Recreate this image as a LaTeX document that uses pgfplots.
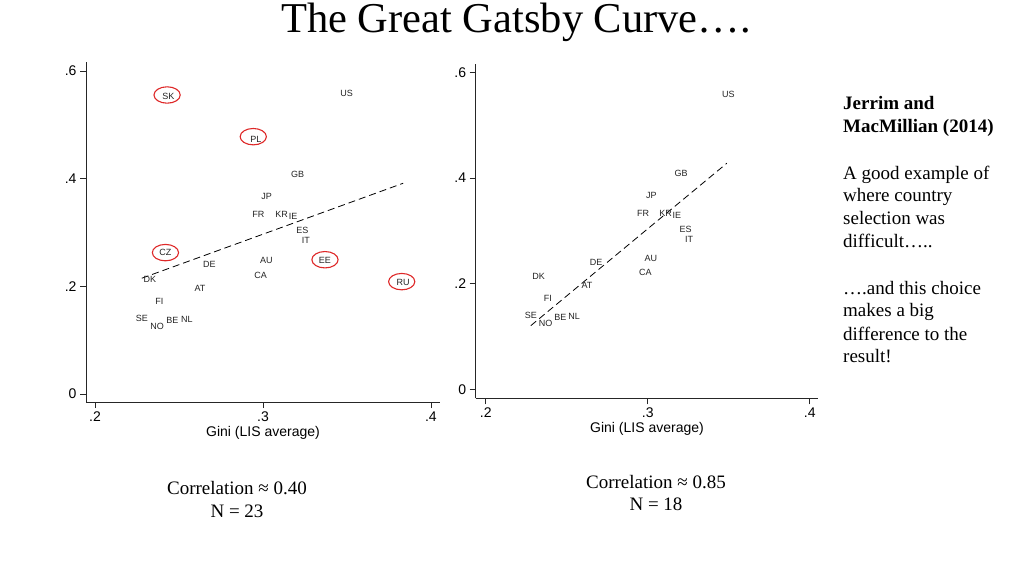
\documentclass[border=0pt]{standalone}
\usepackage{pgfplots}
\pgfplotsset{compat=1.18}
\usepackage{pgfplotstable}
\usepackage{fontspec}
\setmainfont{Liberation Serif}
\newfontfamily\arial{Liberation Sans}
\definecolor{circred}{RGB}{222,40,40}
\definecolor{lblgray}{RGB}{35,35,35}

\pgfplotstableread{
label x y
SK 0.2436 0.5520
US 0.3498 0.5586
PL 0.2958 0.4737
GB 0.3206 0.4087
JP 0.3022 0.3666
FR 0.2972 0.3332
KR 0.3111 0.3332
IE 0.3180 0.3302
ES 0.3234 0.3034
IT 0.3256 0.2849
CZ 0.2419 0.2626
DE 0.2681 0.2410
AU 0.3020 0.2485
EE 0.3369 0.2477
CA 0.2986 0.2212
DK 0.2327 0.2137
RU 0.3835 0.2069
AT 0.2625 0.1965
FI 0.2383 0.1729
SE 0.2278 0.1395
NO 0.2369 0.1252
BE 0.2460 0.1370
NL 0.2546 0.1381
}\alldata

\pgfplotstableread{
label x y
US 0.3498 0.5586
GB 0.3206 0.4087
JP 0.3022 0.3666
FR 0.2972 0.3332
KR 0.3111 0.3332
IE 0.3180 0.3302
ES 0.3234 0.3034
IT 0.3256 0.2849
DE 0.2681 0.2410
AU 0.3020 0.2485
CA 0.2986 0.2212
DK 0.2327 0.2137
AT 0.2625 0.1965
FI 0.2383 0.1729
SE 0.2278 0.1395
NO 0.2369 0.1252
BE 0.2460 0.1370
NL 0.2546 0.1381
}\subdata

\pgfplotstableread{
x y
0.2429 0.5554
0.2942 0.4780
0.2419 0.2626
0.3369 0.2494
0.3826 0.2087
}\circled

\pgfplotsset{
  gatsby/.style={
    scale only axis,
    clip=false,
    axis x line*=bottom,
    axis y line*=left,
    axis line style={black!85, line width=0.9pt, -},
    tick align=outside,
    major tick length=6pt,
    tick style={black!85, line width=0.8pt},
    xtick={0.2,0.3,0.4},
    xticklabels={.2,.3,.4},
    ytick={0,0.2,0.4,0.6},
    yticklabels={0,.2,.4,.6},
    ticklabel style={font=\arial\fontsize{14}{16}\selectfont},
    xlabel={Gini (LIS average)},
    xlabel style={font=\arial\fontsize{14}{16}\selectfont, at={(axis description cs:0.5,0)}, anchor=center, yshift=-30.5pt},
  },
  cty/.style={draw=none, mark=none, nodes near coords, point meta=explicit symbolic,
    nodes near coords align=center,
    every node near coord/.append style={font=\arial\fontsize{9}{10}\selectfont, text=lblgray, inner sep=0pt}},
}

\begin{document}
\begin{tikzpicture}
\useasboundingbox (0pt,0pt) rectangle (1024pt,576pt);

\begin{axis}[gatsby,
  at={(86pt,174pt)}, anchor=south west,
  width=354pt, height=340pt,
  xmin=0.1946, xmax=0.4054, ymin=-0.0149, ymax=0.6167]
  \addplot[cty] table[x=x, y=y, meta=label] {\alldata};
  \addplot[black, line width=0.8pt, dash pattern=on 7pt off 4pt] coordinates {(0.2278,0.2150) (0.3835,0.3915)};
  \addplot[only marks, mark=o, mark size=8.2pt, mark options={xscale=1.6, draw=circred, line width=1.1pt}] table[x=x, y=y] {\circled};
\end{axis}

\begin{axis}[gatsby,
  at={(475.7pt,177.7pt)}, anchor=south west,
  width=342.6pt, height=334.3pt,
  xmin=0.1938, xmax=0.4053, ymin=-0.0163, ymax=0.6157]
  \addplot[cty] table[x=x, y=y, meta=label] {\subdata};
  \addplot[black, line width=0.8pt, dash pattern=on 7pt off 4pt] coordinates {(0.2278,0.1210) (0.3488,0.4280)};
\end{axis}

% title
\node[anchor=base, font=\fontsize{42.5}{48}\selectfont, inner sep=0pt] at (516pt,543pt) {The Great Gatsby Curve….};

% right text
\begin{scope}[every node/.style={anchor=base west, inner sep=0pt, font=\fontsize{19}{22.8}\selectfont}]
\node[font=\bfseries\fontsize{19}{22.8}\selectfont] at (843pt,466pt) {Jerrim and};
\node[font=\bfseries\fontsize{19}{22.8}\selectfont] at (843pt,443.3pt) {MacMillian (2014)};
\node at (843pt,396.7pt) {A good example of};
\node at (843pt,374pt) {where country};
\node at (843pt,351pt) {selection was};
\node at (843pt,328.3pt) {difficult…..};
\node at (843pt,281.7pt) {….and this choice};
\node at (843pt,259pt) {makes a big};
\node at (843pt,236pt) {difference to the};
\node at (843pt,213.3pt) {result!};
\end{scope}

% correlations
\begin{scope}[every node/.style={anchor=base, inner sep=0pt, font=\fontsize{19}{22.8}\selectfont}]
\node at (237pt,82pt) {Correlation ≈ 0.40};
\node at (237pt,59pt) {N = 23};
\node at (656pt,88pt) {Correlation ≈ 0.85};
\node at (656pt,66pt) {N = 18};
\end{scope}
\end{tikzpicture}
\end{document}
